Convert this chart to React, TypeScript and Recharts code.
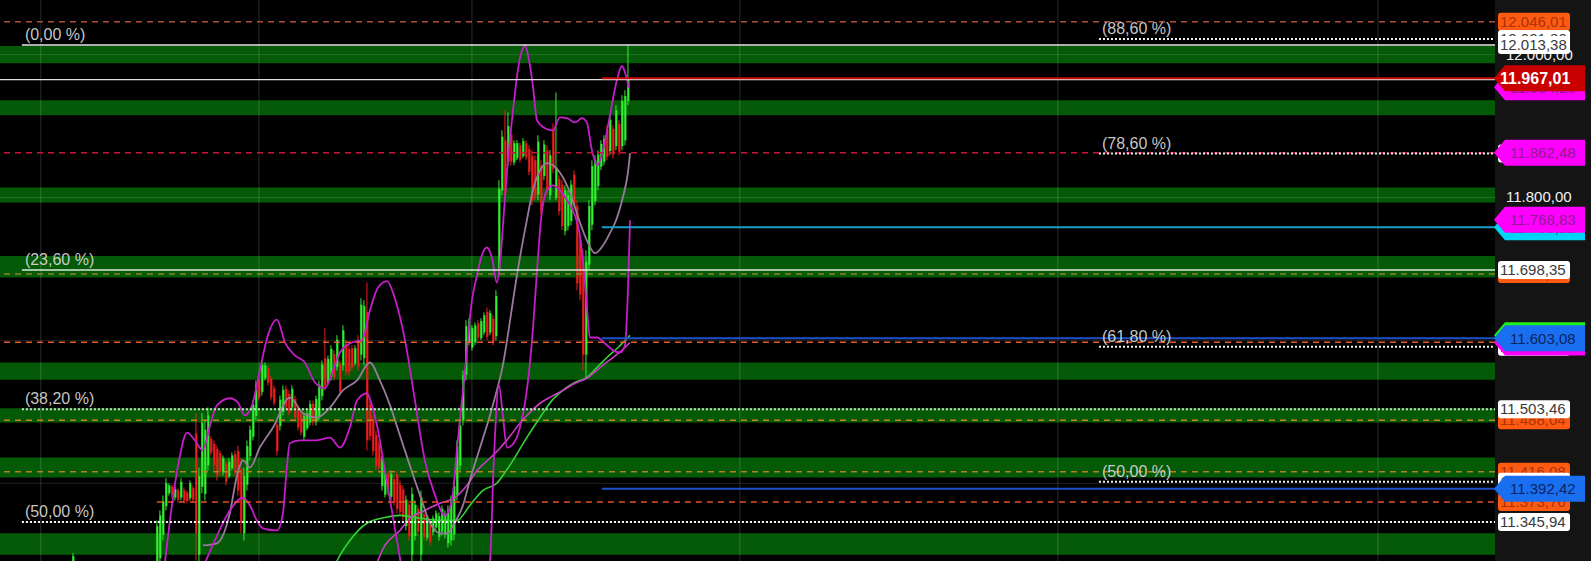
import React from 'react';
import {
  ComposedChart,
  Bar,
  Line,
  XAxis,
  YAxis,
  CartesianGrid,
  ReferenceArea,
  ReferenceLine,
  Cell,
} from 'recharts';

const FONT = "'Liberation Sans', Arial, sans-serif";

// time slots: one early bar far left, then consecutive bars
const candleSlots = [-28, ...Array.from({ length: 158 }, (_, i) => i)];

const opens = [
  11275,
  11280, 11295, 11328, 11368, 11386, 11395, 11380, 11390, 11380, 11390,
  11387, 11379, 11393, 11470, 11300, 11395, 11385, 11425, 11462, 11455,
  11448, 11442, 11415, 11428, 11410, 11421, 11441, 11445, 11420, 11330,
  11398, 11438, 11465, 11494, 11545, 11528, 11547, 11561, 11546, 11533,
  11482, 11480, 11500, 11532, 11525, 11506, 11518, 11504, 11497, 11465,
  11477, 11485, 11511, 11486, 11494, 11522, 11575, 11541, 11549, 11581,
  11563, 11567, 11565, 11595, 11588, 11589, 11568, 11601, 11580, 11575,
  11640, 11510, 11490, 11468, 11455, 11396, 11384, 11414, 11381, 11406,
  11412, 11398, 11391, 11340, 11370, 11300, 11326, 11364, 11300, 11357,
  11324, 11344, 11331, 11338, 11325, 11332, 11328, 11316, 11320, 11328,
  11384, 11425, 11488, 11552, 11597, 11590, 11597, 11624, 11603, 11611,
  11640, 11611, 11630, 11606, 11700, 11810, 11880, 11850, 11888, 11849,
  11855, 11873, 11858, 11876, 11868, 11858, 11852, 11804, 11845, 11830,
  11866, 11803, 11895, 11800, 11826, 11818, 11753, 11760, 11767, 11832,
  11788, 11740, 11700, 11580, 11706, 11762, 11795, 11816, 11843, 11850,
  11895, 11865, 11896, 11872, 11903, 11872, 11880, 11935,
];
const highs = [
  11302,
  11348, 11362, 11383, 11407, 11400, 11398, 11396, 11393, 11407, 11394,
  11390, 11404, 11397, 11498, 11422, 11498, 11488, 11506, 11466, 11460,
  11453, 11446, 11439, 11432, 11435, 11443, 11446, 11453, 11435, 11422,
  11460, 11481, 11516, 11544, 11551, 11572, 11569, 11565, 11551, 11537,
  11488, 11523, 11537, 11537, 11530, 11537, 11523, 11509, 11502, 11499,
  11502, 11516, 11516, 11523, 11544, 11572, 11617, 11579, 11593, 11586,
  11607, 11572, 11621, 11600, 11593, 11593, 11593, 11607, 11659, 11656,
  11681, 11516, 11495, 11474, 11460, 11439, 11418, 11418, 11418, 11411,
  11418, 11404, 11397, 11383, 11376, 11394, 11376, 11369, 11390, 11362,
  11355, 11348, 11355, 11362, 11359, 11369, 11362, 11369, 11383, 11404,
  11460, 11488, 11558, 11628, 11631, 11621, 11625, 11628, 11631, 11639,
  11646, 11642, 11635, 11670, 11824, 11894, 11922, 11919, 11894, 11880,
  11880, 11877, 11883, 11880, 11873, 11866, 11859, 11887, 11852, 11880,
  11873, 11866, 11904, 11947, 11831, 11824, 11817, 11810, 11824, 11838,
  11796, 11747, 11726, 11726, 11796, 11852, 11859, 11866, 11880, 11887,
  11901, 11915, 11901, 11929, 11908, 11943, 11950, 12013,
];
const lows = [
  11271,
  11271, 11285, 11320, 11362, 11383, 11379, 11376, 11373, 11376, 11372,
  11372, 11376, 11373, 11292, 11278, 11386, 11376, 11418, 11439, 11418,
  11404, 11411, 11411, 11397, 11407, 11418, 11411, 11383, 11330, 11320,
  11390, 11432, 11460, 11488, 11516, 11523, 11544, 11537, 11516, 11509,
  11439, 11474, 11495, 11502, 11495, 11502, 11488, 11474, 11467, 11460,
  11474, 11481, 11481, 11481, 11488, 11516, 11530, 11537, 11544, 11544,
  11558, 11523, 11558, 11551, 11551, 11558, 11565, 11558, 11572, 11565,
  11446, 11460, 11439, 11418, 11418, 11390, 11380, 11383, 11376, 11369,
  11358, 11355, 11348, 11334, 11320, 11278, 11320, 11327, 11278, 11320,
  11320, 11313, 11327, 11334, 11320, 11327, 11323, 11310, 11313, 11320,
  11376, 11418, 11481, 11544, 11593, 11586, 11593, 11600, 11600, 11607,
  11600, 11607, 11593, 11600, 11691, 11803, 11796, 11845, 11845, 11845,
  11852, 11849, 11855, 11852, 11831, 11789, 11796, 11796, 11775, 11824,
  11803, 11796, 11834, 11796, 11775, 11754, 11747, 11754, 11761, 11782,
  11670, 11656, 11558, 11547, 11698, 11754, 11789, 11810, 11838, 11845,
  11852, 11859, 11855, 11866, 11859, 11866, 11873, 11929,
];
const closes = [
  11298,
  11340, 11355, 11375, 11400, 11397, 11383, 11392, 11377, 11402, 11376,
  11375, 11400, 11377, 11330, 11410, 11485, 11475, 11495, 11443, 11425,
  11410, 11416, 11435, 11402, 11430, 11439, 11415, 11390, 11345, 11410,
  11452, 11475, 11510, 11538, 11520, 11566, 11565, 11541, 11520, 11512,
  11445, 11517, 11531, 11506, 11499, 11532, 11492, 11478, 11471, 11494,
  11498, 11511, 11485, 11518, 11538, 11566, 11536, 11574, 11588, 11548,
  11601, 11528, 11614, 11556, 11556, 11562, 11589, 11563, 11650, 11648,
  11460, 11466, 11445, 11424, 11422, 11433, 11413, 11387, 11413, 11373,
  11364, 11360, 11353, 11377, 11326, 11385, 11370, 11332, 11380, 11325,
  11351, 11318, 11351, 11358, 11354, 11364, 11357, 11363, 11376, 11396,
  11452, 11481, 11551, 11620, 11627, 11617, 11621, 11604, 11627, 11635,
  11605, 11638, 11598, 11662, 11812, 11885, 11805, 11900, 11850, 11876,
  11876, 11853, 11879, 11856, 11836, 11796, 11802, 11878, 11782, 11874,
  11810, 11859, 11840, 11842, 11781, 11760, 11810, 11804, 11818, 11788,
  11680, 11664, 11580, 11710, 11788, 11844, 11852, 11860, 11875, 11882,
  11857, 11909, 11860, 11922, 11864, 11935, 11942, 11967,
];

// bollinger bands
const upperSlots = [1, 2.7, 5, 7.7, 10, 12.7, 15.3, 17.7, 20, 24.3, 27, 29.3, 31.7, 34.3, 37, 40, 42.7, 46, 49.3, 52.7, 56, 58.7, 61, 65, 68.3, 71, 73.7, 76.7, 79.3, 82.7, 86, 89.3, 92.7, 96, 98.3, 100.3, 102.7, 105, 106.7, 108.3, 110, 111.7, 113.3, 114.3, 115.7, 117, 118.7, 120.3, 121.7, 122.7, 123.7, 125.3, 126.7, 129.3, 132, 134.3, 136.7, 139.3, 141.7, 143.3, 145, 146.7, 148.7, 151, 153.3, 155, 156.3, 157.3];
const upperBand = [11236, 11291, 11369, 11439, 11471, 11460, 11446, 11481, 11509, 11519, 11513, 11495, 11509, 11558, 11607, 11629, 11597, 11579, 11569, 11541, 11533, 11558, 11583, 11597, 11600, 11642, 11674, 11683, 11659, 11600, 11516, 11432, 11383, 11355, 11376, 11460, 11558, 11656, 11691, 11719, 11730, 11715, 11681, 11705, 11782, 11852, 11922, 11978, 12006, 12013, 11999, 11957, 11908, 11897, 11894, 11912, 11911, 11905, 11911, 11905, 11866, 11845, 11866, 11915, 11964, 11984, 11971, 11954];

const middleSlots = [15.3, 20, 24.3, 26.7, 28.7, 31, 34.3, 38.7, 44.3, 48.7, 53.3, 57.7, 62, 66.7, 71, 74.3, 77.7, 81, 84.3, 87.7, 91, 94.3, 96.7, 99.3, 102, 104.3, 107.7, 111, 113.3, 115.3, 116.7, 118.7, 121, 123.3, 125.3, 127.7, 130, 132, 134.3, 137.7, 141, 143.3, 146, 148.7, 151, 153.3, 155.3, 157, 157.7];
const middleBand = [11313, 11316, 11358, 11411, 11432, 11422, 11450, 11478, 11520, 11498, 11492, 11506, 11530, 11544, 11569, 11544, 11509, 11467, 11425, 11383, 11345, 11330, 11330, 11345, 11369, 11404, 11450, 11495, 11530, 11565, 11600, 11656, 11716, 11768, 11810, 11838, 11848, 11845, 11835, 11807, 11765, 11740, 11722, 11733, 11750, 11771, 11800, 11835, 11862];

const lowerSlots = [14.3, 19.3, 24.3, 28.7, 31, 33.3, 35.3, 40, 42, 43.3, 44.3, 47.7, 53.3, 57.7, 61, 64.3, 66.7, 70, 71.7, 73.7, 76, 78.3, 80.3, 82.3, 87.7, 97.7, 106, 111, 112.3, 114, 115.3, 116.7, 118.3, 121, 123.3, 125.3, 126.7, 128, 130, 132, 134.3, 136.7, 139.3, 141, 142.3, 143.3, 144.3, 146.7, 149.3, 152, 154.3, 156, 157, 157.7];
const lowerBand = [11271, 11320, 11362, 11380, 11369, 11348, 11337, 11334, 11358, 11422, 11456, 11460, 11460, 11464, 11450, 11478, 11516, 11526, 11509, 11474, 11418, 11362, 11313, 11264, 11208, 11180, 11208, 11291, 11432, 11537, 11495, 11450, 11453, 11478, 11530, 11614, 11698, 11768, 11810, 11817, 11810, 11796, 11775, 11747, 11698, 11649, 11604, 11604, 11596, 11586, 11583, 11593, 11670, 11768];

// slow averages
const slowSlots = [71.7, 76, 81, 84.3, 89.3, 94.3, 99.3, 103.3, 106.7, 111, 114.3, 117.7, 121, 124.3, 127.7, 131.7, 135.3, 139.3, 143.7, 147.7, 152, 155, 157.7];
const slowAvg = [11271, 11313, 11334, 11351, 11362, 11372, 11380, 11397, 11418, 11435, 11449, 11466, 11484, 11499, 11512, 11522, 11530, 11540, 11548, 11562, 11576, 11586, 11597];
const maSlots = [57.7, 61, 64.3, 70, 76, 81, 87.7, 94.3, 100, 104.3, 108.7, 113.3, 116, 118.7, 122.7, 127.7, 131.7, 135.3, 139.3, 143.3, 146.7, 150, 153.7, 157.7];
const greenAvg = [11271, 11299, 11320, 11344, 11352, 11355, 11351, 11348, 11348, 11369, 11390, 11400, 11415, 11432, 11460, 11492, 11516, 11530, 11541, 11548, 11562, 11576, 11590, 11607];

// green zones [top, bottom]
const zoneTops = [12012, 11936, 11814, 11718, 11569, 11505, 11436, 11330];
const zoneBottoms = [11988, 11915, 11793, 11688, 11545, 11485, 11408, 11300];

const gridPrices = [11400, 11600, 11800, 12000];
const gridSlots = [-38.7, 34, 105, 194.3, 300.3, 407];

const dashedLevels = [12046.01, 11862.48, 11692.8, 11597.3, 11488.04, 11416.08, 11373.76];
const dashedColors = ['#b0503a', '#c8143a', '#8c8228', '#e65a28', '#c8821e', '#b4821e', '#e65028'];
const dashedFrom = [null, null, null, null, null, null, 0];

const fibLeftLevels = [12013.38, 11698.35, 11503.46, 11345.94];
const fibLeftTexts = ['(0,00 %)', '(23,60 %)', '(38,20 %)', '(50,00 %)'];
const fibLeftDash = [undefined, undefined, '2 2', '2 2'];
const fibLeftColors = ['#e8e8e8', '#dbe8db', '#cfe6cf', '#ffffff'];
const fibRightLevels = [12021.8, 11861.5, 11591.2, 11402.1];
const fibRightTexts = ['(88,60 %)', '(78,60 %)', '(61,80 %)', '(50,00 %)'];

const lastClose = 11965;
const positionLevels = [11967.01, 11758.22, 11603.08, 11392.42];
const positionColors = ['#c80a0a', '#1aa0c8', '#1e50c8', '#1e50c8'];

// right scale tags, in drawing order
const axisTagValues = [
  12000, 11800, 12046.01, 12021.8, 12013.38, 11954.2, 11967.01, 11861.5, 11862.48,
  11758.22, 11768.83, 11692.8, 11698.35, 11597.3, 11591.2, 11596.9, 11607.1, 11603.08,
  11488.04, 11503.46, 11416.08, 11402.1, 11373.76, 11392.42, 11345.94,
];
const axisTagKinds = [
  'plain', 'plain', 'orange', 'white', 'white', 'magenta', 'red', 'white', 'magenta',
  'cyan', 'magenta', 'orange', 'white', 'orange', 'white', 'magenta', 'green', 'blue',
  'orange', 'white', 'orange', 'white', 'orange', 'blue', 'white',
];

const X_DOMAIN: [number, number] = [-52.3, 446];
const Y_DOMAIN: [number, number] = [11291.2, 12076.4];
const FIB_LEFT_FROM = -45;
const FIB_RIGHT_FROM = 314;
const POSITION_FROM = 148.3;

const candles = candleSlots.map((i, k) => ({
  i,
  wick: [lows[k], highs[k]],
  body: [Math.min(opens[k], closes[k]), Math.max(opens[k], closes[k])],
  up: closes[k] >= opens[k],
}));

const toSeries = (slots: number[], vals: number[]) => slots.map((i, k) => ({ i, v: vals[k] }));

const fmt = (v: number) => {
  const [a, b] = v.toFixed(2).split('.');
  return a.replace(/\B(?=(\d{3})+(?!\d))/g, '.') + ',' + b;
};

const tagStyle: Record<string, { bg: string; fg: string; shape: string; bold?: boolean }> = {
  plain: { bg: 'none', fg: '#f2f2f2', shape: 'plain' },
  white: { bg: '#ffffff', fg: '#3a3a3a', shape: 'box' },
  orange: { bg: '#ff5a12', fg: '#a83408', shape: 'box' },
  magenta: { bg: '#ff00ff', fg: '#8a1e8e', shape: 'arrow' },
  cyan: { bg: '#00d4f5', fg: '#0a5a6a', shape: 'arrow' },
  green: { bg: '#1ef01e', fg: '#0a5a0a', shape: 'arrow' },
  blue: { bg: '#1a6ef0', fg: '#0a2460', shape: 'arrow' },
  red: { bg: '#c80000', fg: '#ffffff', shape: 'arrow', bold: true },
};

function AxisTag(props: any) {
  const { x, y, payload } = props;
  const k = axisTagValues.indexOf(payload.value);
  const s = tagStyle[axisTagKinds[k]];
  const label = fmt(payload.value);
  if (s.shape === 'plain') {
    return (
      <text x={x + 11} y={y + 5} fill={s.fg} fontSize={15} fontFamily={FONT}>
        {label}
      </text>
    );
  }
  if (s.shape === 'box') {
    return (
      <g>
        <rect x={x + 3} y={y - 9} width={72} height={18} rx={3} fill={s.bg} />
        <text x={x + 5} y={y + 5} fill={s.fg} fontSize={15} fontFamily={FONT}>
          {label}
        </text>
      </g>
    );
  }
  const h = 13;
  return (
    <g>
      <path
        d={`M${x - 1},${y} L${x + 10},${y - h} L${x + 90},${y - h} L${x + 90},${y + h} L${x + 10},${y + h} Z`}
        fill={s.bg}
      />
      <text
        x={x + (s.bold ? 5 : 15)}
        y={y + 5.5}
        fill={s.fg}
        fontSize={s.bold ? 16 : 15}
        fontWeight={s.bold ? 700 : 400}
        fontFamily={FONT}
      >
        {label}
      </text>
    </g>
  );
}

const fibLabel = (text: string) => (p: any) => {
  const vb = p.viewBox || {};
  return (
    <text x={vb.x + 3} y={vb.y - 5} fill="#dcdcdc" fillOpacity={0.92} fontSize={16} fontFamily={FONT}>
      {text}
    </text>
  );
};

export default function App() {
  return (
    <div style={{ position: 'absolute', left: 0, top: 0, width: 1591, height: 561, background: '#141414' }}>
      <ComposedChart width={1591} height={561} data={candles} margin={{ top: 0, right: 0, bottom: 0, left: 0 }}>
        <CartesianGrid horizontal={false} vertical={false} fill="#000" />
        <XAxis dataKey="i" type="number" domain={X_DOMAIN} allowDataOverflow hide />
        <XAxis xAxisId="wick" dataKey="i" type="number" domain={X_DOMAIN} allowDataOverflow hide />
        <XAxis xAxisId="body" dataKey="i" type="number" domain={X_DOMAIN} allowDataOverflow hide />
        <YAxis
          orientation="right"
          width={96}
          type="number"
          domain={Y_DOMAIN}
          allowDataOverflow
          ticks={axisTagValues}
          interval={0}
          tickLine={false}
          axisLine={false}
          tickSize={0}
          tickMargin={0}
          tick={AxisTag}
        />

        {zoneTops.map((t, k) => (
          <ReferenceArea key={`z${k}`} y1={zoneBottoms[k]} y2={t} fill="#055a08" fillOpacity={1} stroke="none" ifOverflow="visible" />
        ))}
        {gridPrices.map((p) => (
          <ReferenceLine key={`gh${p}`} y={p} stroke="#ffffff" strokeOpacity={0.13} strokeWidth={1} />
        ))}
        {gridSlots.map((s) => (
          <ReferenceLine key={`gv${s}`} x={s} stroke="#ffffff" strokeOpacity={0.17} strokeWidth={1} ifOverflow="visible" />
        ))}

        <Bar xAxisId="wick" dataKey="wick" barSize={1} isAnimationActive={false}>
          {candles.map((c, k) => (
            <Cell key={`w${k}`} fill={c.up ? '#2ef02e' : '#f01c1c'} />
          ))}
        </Bar>
        <Bar xAxisId="body" dataKey="body" barSize={2} isAnimationActive={false}>
          {candles.map((c, k) => (
            <Cell key={`b${k}`} fill={c.up ? '#2ef02e' : '#f01c1c'} />
          ))}
        </Bar>

        <Line data={toSeries(maSlots, greenAvg)} dataKey="v" type="monotone" stroke="#34d234" strokeWidth={1.6} dot={false} activeDot={false} isAnimationActive={false} />
        <Line data={toSeries(slowSlots, slowAvg)} dataKey="v" type="monotone" stroke="#cc3cc4" strokeWidth={1.6} dot={false} activeDot={false} isAnimationActive={false} />
        <Line data={toSeries(middleSlots, middleBand)} dataKey="v" type="monotone" stroke="#9a7a9c" strokeWidth={1.8} dot={false} activeDot={false} isAnimationActive={false} />
        <Line data={toSeries(lowerSlots, lowerBand)} dataKey="v" type="monotone" stroke="#c41ec8" strokeWidth={1.8} dot={false} activeDot={false} isAnimationActive={false} />
        <Line data={toSeries(upperSlots, upperBand)} dataKey="v" type="monotone" stroke="#c41ec8" strokeWidth={1.8} dot={false} activeDot={false} isAnimationActive={false} />

        {dashedLevels.map((p, k) =>
          dashedFrom[k] === null ? (
            <ReferenceLine key={`d${k}`} y={p} stroke={dashedColors[k]} strokeWidth={1.5} strokeDasharray="6 5" />
          ) : (
            <ReferenceLine
              key={`d${k}`}
              segment={[{ x: dashedFrom[k] as number, y: p }, { x: X_DOMAIN[1], y: p }]}
              stroke={dashedColors[k]}
              strokeWidth={1.5}
              strokeDasharray="6 5"
              ifOverflow="visible"
            />
          )
        )}
        <ReferenceLine y={lastClose} stroke="#e0e0e0" strokeWidth={1.3} />
        {positionLevels.map((p, k) => (
          <ReferenceLine
            key={`pos${k}`}
            segment={[{ x: POSITION_FROM, y: p }, { x: X_DOMAIN[1], y: p }]}
            stroke={positionColors[k]}
            strokeWidth={2}
            ifOverflow="visible"
          />
        ))}
        {fibLeftLevels.map((p, k) => (
          <ReferenceLine
            key={`fl${k}`}
            segment={[{ x: FIB_LEFT_FROM, y: p }, { x: X_DOMAIN[1], y: p }]}
            stroke={fibLeftColors[k]}
            strokeWidth={fibLeftDash[k] ? 2 : 1.5}
            strokeDasharray={fibLeftDash[k]}
            ifOverflow="visible"
            label={fibLabel(fibLeftTexts[k])}
          />
        ))}
        {fibRightLevels.map((p, k) => (
          <ReferenceLine
            key={`fr${k}`}
            segment={[{ x: FIB_RIGHT_FROM, y: p }, { x: X_DOMAIN[1], y: p }]}
            stroke="#f0f0f0"
            strokeWidth={2}
            strokeDasharray="2 2"
            ifOverflow="visible"
            label={fibLabel(fibRightTexts[k])}
          />
        ))}
      </ComposedChart>
    </div>
  );
}
